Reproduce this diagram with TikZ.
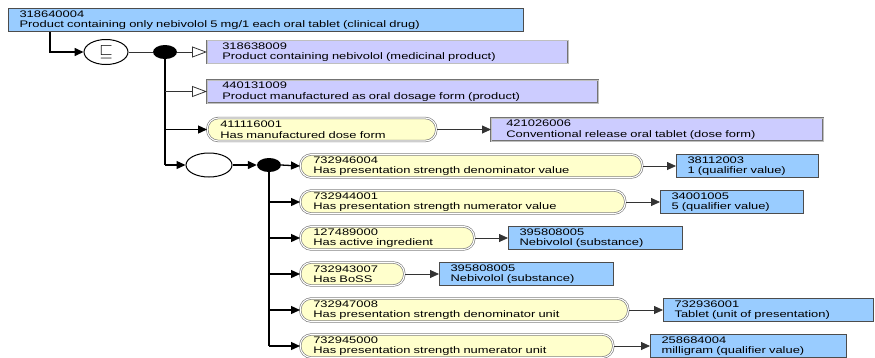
\documentclass[tikz,border=0pt]{standalone}
\usepackage{fontspec}
\setmainfont{Liberation Sans}[FakeStretch=1.36]
\usetikzlibrary{arrows.meta,shapes.geometric}
\definecolor{cblue}{HTML}{99CCFF}
\definecolor{clav}{HTML}{CCCCFF}
\definecolor{cyel}{HTML}{FFFFCC}
\newcommand{\diagfont}{\fontsize{9.5}{10.5}\selectfont}
\begin{document}
\begin{tikzpicture}[x=1pt,y=-1pt,
  every node/.style={font=\diagfont},
  bbox/.style={rectangle, anchor=west, minimum height=23pt, inner xsep=11pt, inner ysep=0pt, align=left, fill=cblue, draw=black!70, line width=1.1pt},
  lbox/.style={rectangle, anchor=west, minimum height=23pt, inner xsep=15pt, inner ysep=0pt, align=left, fill=clav, draw=black!55, line width=0.6pt, double=black!25, double distance=0.7pt},
  ybox/.style={rectangle, rounded corners=11pt, anchor=west, minimum height=23pt, inner xsep=13pt, inner ysep=0pt, align=left, fill=cyel, draw=black!55, line width=0.6pt, double=white, double distance=1.1pt},
  blackdot/.style={ellipse, fill=black, minimum width=24pt, minimum height=14pt, inner sep=0pt},
  opencirc/.style={ellipse, draw=black, line width=1pt, fill=white, minimum width=44pt, minimum height=25pt, inner sep=0pt},
  trunk/.style={draw=black, line width=1.6pt},
  branch/.style={draw=black, line width=1.3pt},
  thin/.style={draw=black!80, line width=0.8pt},
  tip/.style={-{Triangle[length=9pt,width=8pt]}},
  opentip/.style={-{Triangle[open,length=15pt,width=11pt,fill=white]}}
]
\useasboundingbox (0,0) rectangle (875,357);
\fill[white] (0,0) rectangle (875,357);

% top concept
\node[bbox, text width=493pt] (top) at (8,20) {318640004\\Product containing only nebivolol 5 mg/1 each oral tablet (clinical drug)};

% first group
\node[opencirc, font=\fontsize{18}{18}\selectfont] (eq) at (106,52) {$\sqsubseteq$};
\node[blackdot] (dot1) at (165,52) {};
\node[lbox, text width=331pt] (b1) at (207,52) {318638009\\Product containing nebivolol (medicinal product)};
\node[lbox, text width=361pt] (b2) at (207,91.5) {440131009\\Product manufactured as oral dosage form (product)};
\node[ybox, text width=203pt] (y0) at (207,129.5) {411116001\\Has manufactured dose form};
\node[lbox, text width=302pt] (v0) at (491,129.5) {421026006\\Conventional release oral tablet (dose form)};

% second group
\node[opencirc, minimum width=46pt, minimum height=24pt] (grp) at (209,165) {};
\node[blackdot] (dot2) at (269,165) {};

\node[ybox, text width=316pt] (r1) at (300,166) {732946004\\Has presentation strength denominator value};
\node[bbox, text width=120pt] (v1) at (676,166) {38112003\\1 (qualifier value)};
\node[ybox, text width=299pt] (r2) at (300,202) {732944001\\Has presentation strength numerator value};
\node[bbox, text width=121pt] (v2) at (660,202) {34001005\\5 (qualifier value)};
\node[ybox, text width=148pt] (r3) at (300,238) {127489000\\Has active ingredient};
\node[bbox, text width=152pt] (v3) at (508,238) {395808005\\Nebivolol (substance)};
\node[ybox, text width=78pt] (r4) at (300,274) {732943007\\Has BoSS};
\node[bbox, text width=152pt] (v4) at (439,274) {395808005\\Nebivolol (substance)};
\node[ybox, text width=302pt] (r5) at (300,310) {732947008\\Has presentation strength denominator unit};
\node[bbox, text width=188pt] (v5) at (663,310) {732936001\\Tablet (unit of presentation)};
\node[ybox, text width=287pt] (r6) at (300,346) {732945000\\Has presentation strength numerator unit};
\node[bbox, text width=174pt] (v6) at (650,346) {258684004\\milligram (qualifier value)};

% connectors
\coordinate (tstart) at ([xshift=42pt]top.south west);
\draw[trunk, tip] (tstart) |- (eq.west);
\draw[thin] (eq.east) -- (dot1.west);
\draw[thin, opentip] (dot1.east) -- (b1.west);
\draw[trunk] (dot1.center) -- (dot1.center |- grp.west);
\draw[branch, tip] (dot1.center |- grp.west) -- (grp.west);
\draw[thin, opentip] (dot1.center |- b2.west) -- (b2.west);
\draw[branch, tip] (dot1.center |- y0.west) -- (y0.west);
\draw[thin, tip] (y0.east) -- (v0.west);

\draw[branch, tip] (grp.east) -- (dot2.west);
\draw[branch, tip] (dot2.east) -- (r1.west);
\draw[trunk] (dot2.center) -- (dot2.center |- r6.west);
\draw[branch, tip] (dot2.center |- r2.west) -- (r2.west);
\draw[branch, tip] (dot2.center |- r3.west) -- (r3.west);
\draw[branch, tip] (dot2.center |- r4.west) -- (r4.west);
\draw[branch, tip] (dot2.center |- r5.west) -- (r5.west);
\draw[branch, tip] (dot2.center |- r6.west) -- (r6.west);

\draw[thin, tip] (r1.east) -- (v1.west);
\draw[thin, tip] (r2.east) -- (v2.west);
\draw[thin, tip] (r3.east) -- (v3.west);
\draw[thin, tip] (r4.east) -- (v4.west);
\draw[thin, tip] (r5.east) -- (v5.west);
\draw[thin, tip] (r6.east) -- (v6.west);
\end{tikzpicture}
\end{document}
